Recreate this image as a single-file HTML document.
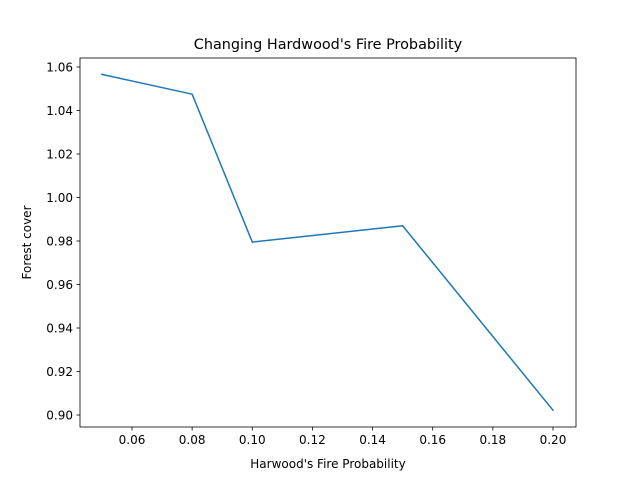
<!DOCTYPE html>
<html><head><meta charset="utf-8"><style>
html,body{margin:0;padding:0;background:#fff;}
svg{display:block;font-family:"DejaVu Sans","Liberation Sans",sans-serif;}
</style></head><body>
<svg id="chart" width="640" height="480" viewBox="0 0 640 480">
<rect x="0" y="0" width="640" height="480" fill="#fff"/>
<g id="plot"></g>
<text x="328" y="49" font-size="14.4" text-anchor="middle" fill="#000">Changing Hardwood's Fire Probability</text>
<text x="328" y="468" font-size="12" text-anchor="middle" fill="#000">Harwood's Fire Probability</text>
<text x="31" y="242.5" font-size="12" text-anchor="middle" fill="#000" transform="rotate(-90 31 242.5)">Forest cover</text>
</svg>
<script>
const xValues = [0.05, 0.08, 0.10, 0.15, 0.20];
const yValues = [1.0566, 1.0475, 0.9795, 0.987, 0.9022];
const xTicks = [0.06, 0.08, 0.10, 0.12, 0.14, 0.16, 0.18, 0.20];
const yTicks = [0.90, 0.92, 0.94, 0.96, 0.98, 1.00, 1.02, 1.04, 1.06];

const NS = "http://www.w3.org/2000/svg";
const L = 80, R = 576, T = 58, B = 427;
function xs(v){ return 132 + (v - 0.06) / 0.02 * 60.14; }
function ys(v){ return 67 + (1.06 - v) / 0.02 * 43.5; }
const g = document.getElementById('plot');
function mk(tag, attrs){ const e = document.createElementNS(NS, tag); for (const k in attrs) e.setAttribute(k, attrs[k]); g.appendChild(e); return e; }

xTicks.forEach(t => {
  const x = xs(t);
  const tk = mk('line', {x1:x, x2:x, y1:B, y2:B+3.5, stroke:'#000', 'stroke-width':0.8});
  
  
  const lb = mk('text', {x:x, y:B+17, 'font-size':12, 'text-anchor':'middle'});
  lb.textContent = t.toFixed(2);
  
  
});
yTicks.forEach(t => {
  const y = ys(t);
  const tk = mk('line', {x1:L-3.5, x2:L, y1:y, y2:y, stroke:'#000', 'stroke-width':0.8});
  
  
  const lb = mk('text', {x:L-7, y:y+4.3, 'font-size':12, 'text-anchor':'end'});
  lb.textContent = t.toFixed(2);
  
  
});
const pts = xValues.map((v,i) => xs(v).toFixed(2) + ',' + ys(yValues[i]).toFixed(2)).join(' ');
const line = mk('polyline', {points:pts, fill:'none', stroke:'#1f77b4', 'stroke-width':1.5, 'stroke-linejoin':'round', 'stroke-linecap':'square'});


const frame = mk('rect', {x:L, y:T, width:R-L, height:B-T, fill:'none', stroke:'#000', 'stroke-width':0.8});


</script>
</body></html>
